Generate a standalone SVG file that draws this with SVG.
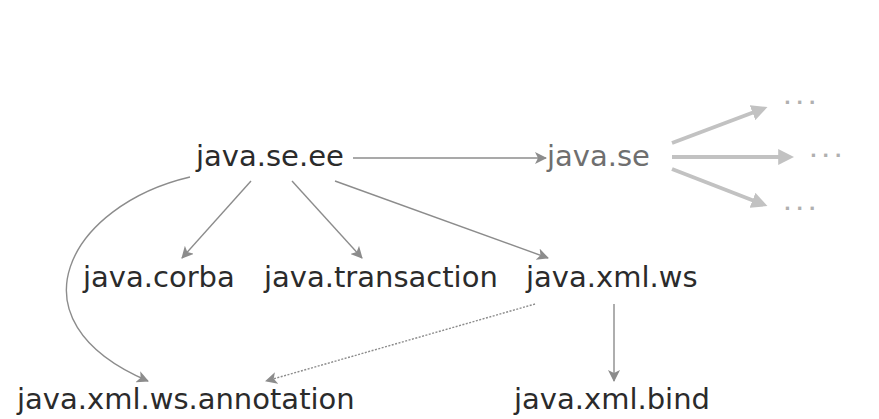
<svg xmlns="http://www.w3.org/2000/svg" width="879" height="419" viewBox="0 0 879 419">
<style>
text{font-family:"DejaVu Sans",sans-serif;font-size:29px;fill:#2b2b2b}
.gray{fill:#6f6f6f}
.dots{fill:#b0b0b0;font-size:18px;letter-spacing:5.5px;font-weight:bold}
.e{stroke:#8c8c8c;stroke-width:1.4;fill:none;marker-end:url(#a)}
.d{stroke:#8c8c8c;stroke-width:1.4;fill:none;stroke-dasharray:2 1.5;marker-end:url(#a)}
.f{stroke:#c2c2c2;stroke-width:4;fill:none;marker-end:url(#b)}
</style>
<defs>
<marker id="a" viewBox="0 0 12 12" refX="11" refY="6" markerWidth="12" markerHeight="12" markerUnits="userSpaceOnUse" orient="auto">
<path d="M0,0 L12,6 L0,12 L3,6 Z" fill="#8c8c8c"/>
</marker>
<marker id="b" viewBox="0 0 10 10" refX="3" refY="5" markerWidth="4" markerHeight="4" orient="auto">
<path d="M0,0 L10,5 L0,10 Z" fill="#c2c2c2"/>
</marker>
</defs>
<rect width="879" height="419" fill="#ffffff"/>
<g id="connectors">
<path class="e" d="M353,158 L546,158"/>
<path class="e" d="M251,181 L182,258"/>
<path class="e" d="M292,181 L362,258"/>
<path class="e" d="M335,181 L548,258"/>
<path class="e" d="M190,177 C70,205 5,320 148,381"/>
<path class="d" d="M535,304 L266,381"/>
<path class="e" d="M614,304 L614,381"/>
<path class="f" d="M672,143 L757,111"/>
<path class="f" d="M672,157 L783,157"/>
<path class="f" d="M672,169 L757,202"/>
</g>
<g id="n-java-se-ee"><text x="196" y="166">java.se.ee</text></g>
<g id="n-java-se"><text class="gray" x="547" y="166">java.se</text></g>
<g id="n-dots1"><text class="dots" x="784" y="104">...</text></g>
<g id="n-dots2"><text class="dots" x="810" y="157">...</text></g>
<g id="n-dots3"><text class="dots" x="784" y="210">...</text></g>
<g id="n-java-corba"><text x="83" y="287">java.corba</text></g>
<g id="n-java-transaction"><text x="264" y="287">java.transaction</text></g>
<g id="n-java-xml-ws"><text x="526" y="287">java.xml.ws</text></g>
<g id="n-java-xml-ws-annotation"><text x="17" y="409">java.xml.ws.annotation</text></g>
<g id="n-java-xml-bind"><text x="514" y="409">java.xml.bind</text></g>
</svg>
